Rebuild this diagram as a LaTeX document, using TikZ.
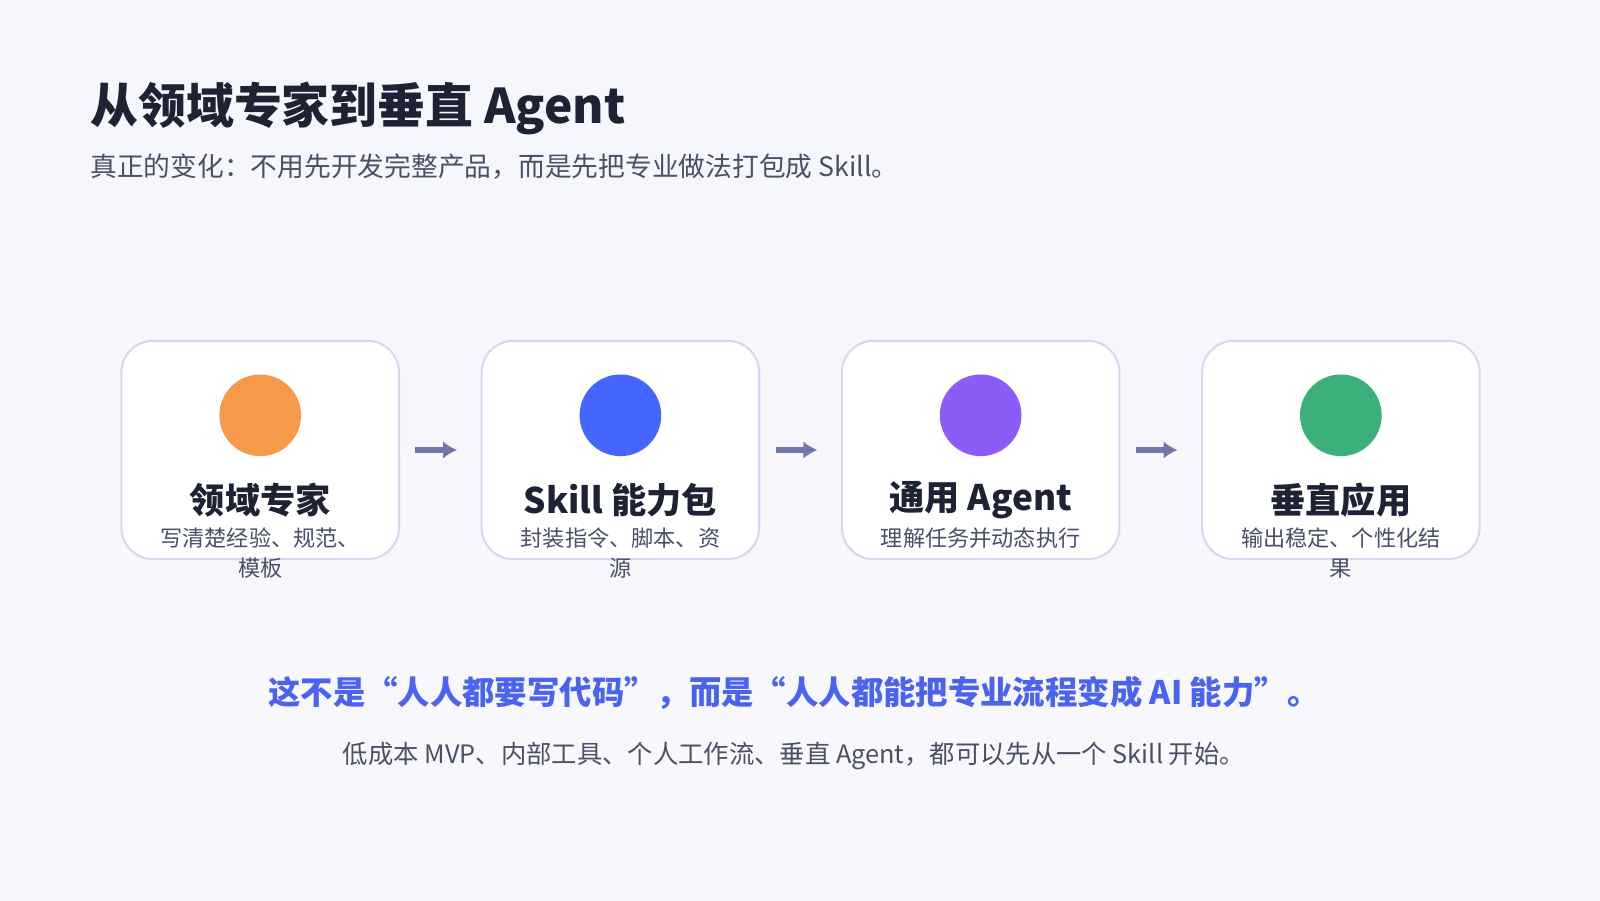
\documentclass[tikz,border=0pt]{standalone}
\usepackage{fontspec}
\setmainfont{Noto Sans CJK SC}
\newfontfamily\cjk{Noto Sans CJK SC}
\usetikzlibrary{arrows.meta}
\definecolor{inkdark}{HTML}{1E2235}
\definecolor{inkgrey}{HTML}{4A5066}
\definecolor{inkblue}{HTML}{4A63F0}
\definecolor{arrowgrey}{HTML}{7078A8}
\definecolor{boxline}{HTML}{D6DAEE}
\definecolor{bgtop}{HTML}{F6F6FD}
\definecolor{bgbottom}{HTML}{F8F7FB}
\tikzset{
  stepbox/.style={draw=boxline, fill=white, rounded corners=9pt, line width=0.6pt},
  stepdot/.style={circle, minimum size=80*0.0102cm, inner sep=0pt},
  steptitle/.style={font=\cjk\fontsize{10}{12}\selectfont\bfseries, text=inkdark},
  stepnote/.style={font=\cjk\fontsize{6.3}{8.6}\selectfont, text=inkgrey, align=center, anchor=north},
  steparrow/.style={-{Latex[length=4pt,width=5pt]}, arrowgrey, line width=1.6pt}
}
\begin{document}
\begin{tikzpicture}[x=0.0102cm,y=-0.0102cm]
  \shade[top color=bgtop, bottom color=bgbottom] (0,0) rectangle (1568,882);
  \useasboundingbox (0,0) rectangle (1568,882);
  % heading
  \node[anchor=west, inner sep=0pt, font=\cjk\fontsize{13.6}{16}\selectfont\bfseries, text=inkdark] (title) at (88,106) {从领域专家到垂直 Agent};
  \node[anchor=west, inner sep=0pt, font=\cjk\fontsize{7.6}{9}\selectfont, text=inkgrey] (subtitle) at (88,163) {真正的变化：不用先开发完整产品，而是先把专业做法打包成 Skill。};
  % steps
  \foreach \i/\x/\col/\name/\note in {
      1/119/F59A4A/领域专家/写清楚经验、规范、\\模板,
      2/472/4466FF/Skill 能力包/封装指令、脚本、资\\源,
      3/825/8B5CF6/通用 Agent/理解任务并动态执行,
      4/1178/3BB07A/垂直应用/输出稳定、个性化结\\果} {
    \definecolor{dotcol}{HTML}{\col}
    \draw[stepbox] (\x,334) rectangle (\x+272,548);
    \coordinate (box\i-w) at (\x,441);
    \coordinate (box\i-e) at (\x+272,441);
    \node[stepdot, fill=dotcol] (dot\i) at (\x+136,407) {};
    \node[steptitle] (name\i) at (\x+136,490) {\name};
    \node[stepnote] (note\i) at (\x+136,505) {\note};
  }
  % arrows
  \foreach \i/\j in {1/2, 2/3, 3/4}
    \draw[steparrow] ([xshift=16*0.0102cm]box\i-e) -- ([xshift=-24*0.0102cm]box\j-w);
  % message
  \node[font=\cjk\fontsize{9.2}{12}\selectfont\bfseries, text=inkblue] (slogan) at (778,679) {这不是“人人都要写代码”，而是“人人都能把专业流程变成 AI 能力”。};
  \node[font=\cjk\fontsize{7.2}{9}\selectfont, text=inkgrey] (footnote) at (778,741) {低成本 MVP、内部工具、个人工作流、垂直 Agent，都可以先从一个 Skill 开始。};
\end{tikzpicture}
\end{document}
